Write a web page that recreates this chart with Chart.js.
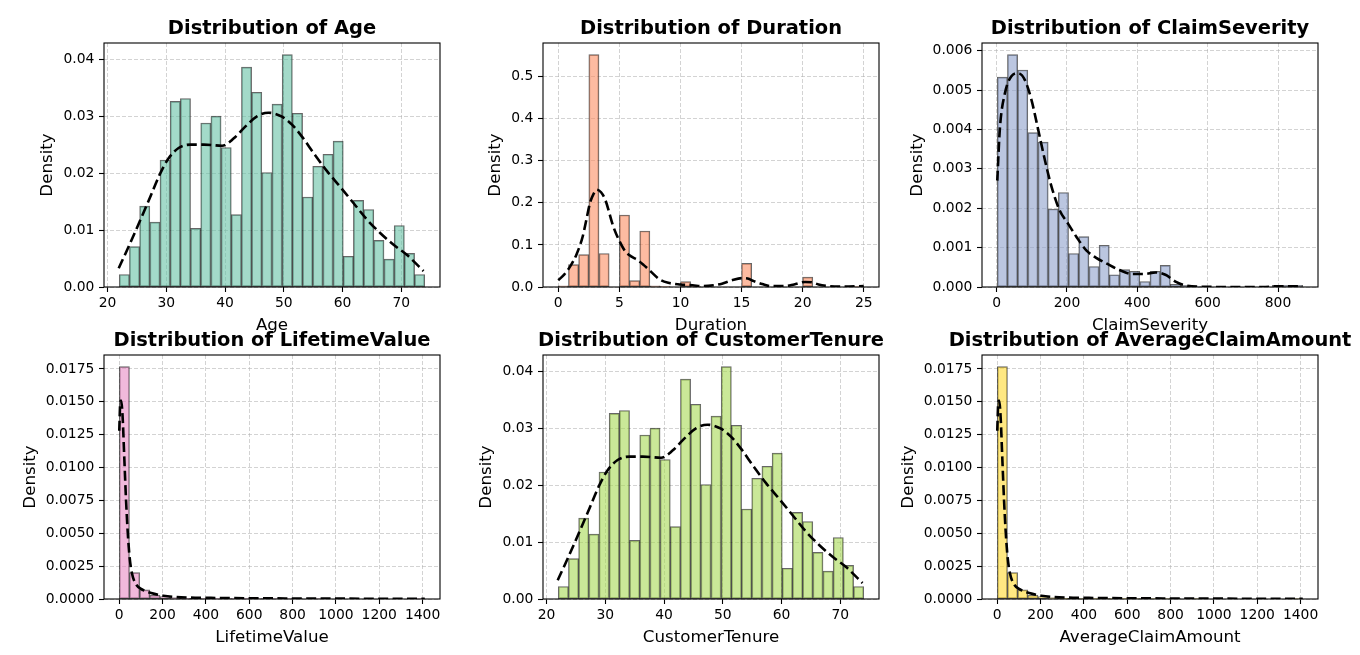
<!DOCTYPE html>
<html><head><meta charset="utf-8">
<script src="https://cdn.jsdelivr.net/npm/chart.js@4.4.0/dist/chart.umd.min.js"></script>
<style>
html,body{margin:0;padding:0;background:#fff;width:1360px;height:655px;overflow:hidden;position:relative;}
canvas{position:absolute;}
</style></head><body>
<script>
// ---------- DATA ----------
// Age (30 bins over the data range)
const ageRange = [22, 74];
const ageDensity = [0.0022,0.0071,0.0142,0.0114,0.0223,0.0326,0.0331,0.0103,0.0288,0.0300,0.0245,0.0127,0.0386,0.0342,0.0201,0.0321,0.0408,0.0305,0.0158,0.0212,0.0233,0.0256,0.0054,0.0152,0.0136,0.0082,0.0049,0.0108,0.0059,0.0022];
const ageKdeX = [21.9,23.6,25.6,27.3,29.0,30.4,32.1,34.1,36.4,39.5,41.5,43.2,45.5,47.4,49.7,51.4,53.1,55.1,57.4,59.6,61.9,64.2,66.5,68.7,71.0,73.8];
const ageKdeY = [0.0033,0.0071,0.0118,0.0159,0.0200,0.0226,0.0244,0.0250,0.0250,0.0248,0.0261,0.0279,0.0300,0.0306,0.0299,0.0285,0.0264,0.0235,0.0203,0.0176,0.0147,0.0118,0.0094,0.0074,0.0056,0.0028];
const ageXTicks = ['20','30','40','50','60','70'];
const ageYTicks = ['0.00','0.01','0.02','0.03','0.04'];

// Duration
const durRange = [0, 25];
const durDensity = [0.003,0.053,0.077,0.552,0.0795,0,0.171,0.015,0.133,0.003,0.001,0,0.0126,0.001,0,0,0,0,0.056,0,0,0,0,0,0.0236,0,0,0,0,0.001];
const durKdeX = [0,0.5,1.0,1.5,2.0,2.3,2.6,2.9,3.15,3.5,3.85,4.5,5.06,5.5,6.0,6.5,7.0,7.6,8.3,9.0,10.0,11.0,11.9,12.7,13.4,14.2,15.0,15.5,16.0,16.7,17.4,18.5,19.3,20.2,20.8,21.3,22.2,23.2,25.0];
const durKdeY = [0.016,0.030,0.050,0.078,0.120,0.160,0.200,0.222,0.231,0.225,0.207,0.144,0.106,0.084,0.072,0.064,0.052,0.036,0.018,0.010,0.006,0.004,0.002,0.004,0.008,0.016,0.021,0.020,0.014,0.007,0.002,0.002,0.006,0.012,0.011,0.006,0.002,0.001,0.002];
const durXTicks = ['0','5','10','15','20','25'];
const durYTicks = ['0.0','0.1','0.2','0.3','0.4','0.5'];

// ClaimSeverity
const claimRange = [1.8, 870.3];
const claimDensity = [0.00533,0.0059,0.00551,0.00392,0.00368,0.00198,0.0024,0.00085,0.00128,0.00052,0.00106,0.00031,0.00044,0.0004,0.00014,0.0004,0.00055,0.00007,0.00004,0.00001,0,0,0,0,0,0,0,0.00004,0.00004,0.00004];
const claimKdeX = [1.8,9,23,42,61,80,99,118,137,156,179,203,227,255,283,312,349,387,420,452,480,510,538,595,660,755,802,868];
const claimKdeY = [0.0027,0.0040,0.0049,0.00535,0.00543,0.00526,0.00475,0.0040,0.00323,0.00255,0.00195,0.00161,0.00127,0.00093,0.00074,0.0006,0.00043,0.00033,0.00033,0.00037,0.00031,0.00013,0.00004,0.000005,0,0,0.00002,0.00002];
const claimXTicks = ['0','200','400','600','800'];
const claimYTicks = ['0.000','0.001','0.002','0.003','0.004','0.005','0.006'];

// LifetimeValue
const ltvRange = [0, 1410];
const ltvDensity = [0.01768,0.00201,0.00069,0.0003,0.00018,0.0001,0.00006,0.00005,0.00004,0.00003,0.00003,0.00002,0.00002,0.00001,0.00001,0.00001,0.00001,0.00001,0,0.00001,0,0,0,0,0,0,0,0,0,0.00001];
const ltvKdeX = [0,4,8,15,23,31,39,47,58,78,109,148,203,258,350,450,600,800,1000,1200,1410];
const ltvKdeY = [0.0128,0.0148,0.0151,0.0140,0.0108,0.0076,0.0051,0.0033,0.0020,0.0011,0.0007,0.00045,0.00025,0.00015,0.0001,0.00008,0.00006,0.00004,0.00003,0.00002,0.00001];
const ltvXTicks = ['0','200','400','600','800','1000','1200','1400'];
const ltvYTicks = ['0.0000','0.0025','0.0050','0.0075','0.0100','0.0125','0.0150','0.0175'];

// CustomerTenure
const tenureRange = [22, 74];
const tenureDensity = [0.0022,0.0071,0.0142,0.0114,0.0223,0.0326,0.0331,0.0103,0.0288,0.0300,0.0245,0.0127,0.0386,0.0342,0.0201,0.0321,0.0408,0.0305,0.0158,0.0212,0.0233,0.0256,0.0054,0.0152,0.0136,0.0082,0.0049,0.0108,0.0059,0.0022];
const tenureKdeX = [21.9,23.6,25.6,27.3,29.0,30.4,32.1,34.1,36.4,39.5,41.5,43.2,45.5,47.4,49.7,51.4,53.1,55.1,57.4,59.6,61.9,64.2,66.5,68.7,71.0,73.8];
const tenureKdeY = [0.0033,0.0071,0.0118,0.0159,0.0200,0.0226,0.0244,0.0250,0.0250,0.0248,0.0261,0.0279,0.0300,0.0306,0.0299,0.0285,0.0264,0.0235,0.0203,0.0176,0.0147,0.0118,0.0094,0.0074,0.0056,0.0028];

// AverageClaimAmount
const acaRange = [0, 1410];
const acaDensity = [0.01768,0.00201,0.00069,0.0003,0.00018,0.0001,0.00006,0.00005,0.00004,0.00003,0.00003,0.00002,0.00002,0.00001,0.00001,0.00001,0.00001,0.00001,0,0.00001,0,0,0,0,0,0,0,0,0,0.00001];
const acaKdeX = [0,4,8,15,23,31,39,47,58,78,109,148,203,258,350,450,600,800,1000,1200,1410];
const acaKdeY = [0.0128,0.0148,0.0151,0.0140,0.0108,0.0076,0.0051,0.0033,0.0020,0.0011,0.0007,0.00045,0.00025,0.00015,0.0001,0.00008,0.00006,0.00004,0.00003,0.00002,0.00001];

// ---------- LAYOUT ----------
const FONT = '"DejaVu Sans", sans-serif';
Chart.defaults.font.family = FONT;
const AXW = 110, XAH = 60, TB = 35;
const COLS = [104, 543, 982], ROWS = [43, 355], PW = 336, PH = 244;

const framePlugin = {
  id: 'frame',
  afterDraw(c) {
    const a = c.chartArea, x = c.ctx;
    x.save(); x.strokeStyle = '#000'; x.lineWidth = 1.1;
    x.strokeRect(a.left, a.top, a.right - a.left, a.bottom - a.top);
    x.restore();
  }
};

function makeHist(cfg) {
  const {col, row, title, xlabel, range, dens, kdeX, kdeY, color, xTicks, yTicks} = cfg;
  const L = COLS[col], T = ROWS[row];
  const cw = AXW + PW + AXW, ch = TB + PH + XAH;
  const cv = document.createElement('canvas');
  cv.width = cw; cv.height = ch;
  cv.style.left = (L - AXW) + 'px'; cv.style.top = (T - TB) + 'px';
  cv.style.width = cw + 'px'; cv.style.height = ch + 'px';
  document.body.appendChild(cv);

  const [lo, hi] = range;
  const bw = (hi - lo) / dens.length;
  const bars = dens.map((d, i) => ({x: lo + bw * (i + 0.5), y: d}));
  const line = kdeX.map((x, i) => ({x: x, y: kdeY[i]}));
  const span = hi - lo;
  const ymax = 1.05 * Math.max(...dens, ...kdeY);
  const xVals = xTicks.map(parseFloat), yVals = yTicks.map(parseFloat);

  const m = document.createElement('canvas').getContext('2d');
  m.font = '13.89px ' + FONT;
  const tw = Math.max(...yTicks.map(t => m.measureText(t).width));
  const yTitlePad = AXW - (25 + tw) - 10;

  const tickFont = {family: FONT, size: 13.89};
  const gridCommon = {color: 'rgba(176,176,176,0.7)', lineWidth: 0.8, tickLength: 5, tickColor: '#000', tickWidth: 1.1, tickBorderDash: [], drawTicks: true, offset: false};

  new Chart(cv, {
    type: 'bar',
    data: {datasets: [
      {type: 'line', data: line, borderColor: '#000', borderWidth: 2.6, borderDash: [10, 4.4], pointRadius: 0, fill: false, cubicInterpolationMode: 'monotone', order: 0},
      {type: 'bar', data: bars, backgroundColor: color, borderColor: 'rgba(0,0,0,0.6)', borderWidth: 1, borderSkipped: false, barPercentage: 1, categoryPercentage: 1, order: 1}
    ]},
    options: {
      responsive: false, maintainAspectRatio: false, animation: false, devicePixelRatio: 1,
      layout: {padding: 0, autoPadding: false},
      plugins: {
        legend: {display: false}, tooltip: {enabled: false},
        title: {display: true, text: title, fullSize: true, color: '#000',
          font: {family: FONT, size: 19.44, weight: 'bold', lineHeight: '24px'}, padding: {top: 8.6, bottom: 2.4}}
      },
      scales: {
        x: {
          type: 'linear', min: lo - 0.05 * span, max: hi + 0.05 * span, offset: false, bounds: 'data',
          afterBuildTicks: s => { s.ticks = xVals.map(v => ({value: v})); },
          afterFit: s => { s.height = XAH; },
          ticks: {autoSkip: false, maxRotation: 0, minRotation: 0, padding: 3, color: '#000', font: tickFont, callback: (v, i) => xTicks[i]},
          grid: gridCommon,
          border: {display: false, dash: [4, 2]},
          title: {display: true, text: xlabel, color: '#000', font: {family: FONT, size: 16.67, lineHeight: '20px'}, padding: {top: 0, bottom: 11.5}}
        },
        y: {
          type: 'linear', position: 'left', min: 0, max: ymax, bounds: 'data',
          afterBuildTicks: s => { s.ticks = yVals.map(v => ({value: v})); },
          afterFit: s => { s.width = AXW; },
          ticks: {autoSkip: false, padding: 4.7, color: '#000', font: tickFont, callback: (v, i) => yTicks[i]},
          grid: gridCommon,
          border: {display: false, dash: [4, 2]},
          title: {display: true, text: 'Density', color: '#000', font: {family: FONT, size: 16.67, lineHeight: '20px'}, padding: {top: yTitlePad, bottom: 0}}
        },
        yRightSpacer: {
          type: 'linear', position: 'right', display: true,
          afterFit: s => { s.width = AXW; },
          ticks: {display: false},
          grid: {display: false, drawOnChartArea: false, drawTicks: false},
          border: {display: false},
          title: {display: false}
        }
      }
    },
    plugins: [framePlugin]
  });
}

makeHist({col: 0, row: 0, title: 'Distribution of Age', xlabel: 'Age', range: ageRange, dens: ageDensity, kdeX: ageKdeX, kdeY: ageKdeY, color: 'rgba(102,194,165,0.6)', xTicks: ageXTicks, yTicks: ageYTicks});
makeHist({col: 1, row: 0, title: 'Distribution of Duration', xlabel: 'Duration', range: durRange, dens: durDensity, kdeX: durKdeX, kdeY: durKdeY, color: 'rgba(252,141,98,0.6)', xTicks: durXTicks, yTicks: durYTicks});
makeHist({col: 2, row: 0, title: 'Distribution of ClaimSeverity', xlabel: 'ClaimSeverity', range: claimRange, dens: claimDensity, kdeX: claimKdeX, kdeY: claimKdeY, color: 'rgba(141,160,203,0.6)', xTicks: claimXTicks, yTicks: claimYTicks});
makeHist({col: 0, row: 1, title: 'Distribution of LifetimeValue', xlabel: 'LifetimeValue', range: ltvRange, dens: ltvDensity, kdeX: ltvKdeX, kdeY: ltvKdeY, color: 'rgba(231,138,195,0.6)', xTicks: ltvXTicks, yTicks: ltvYTicks});
makeHist({col: 1, row: 1, title: 'Distribution of CustomerTenure', xlabel: 'CustomerTenure', range: tenureRange, dens: tenureDensity, kdeX: tenureKdeX, kdeY: tenureKdeY, color: 'rgba(166,216,84,0.6)', xTicks: ageXTicks, yTicks: ageYTicks});
makeHist({col: 2, row: 1, title: 'Distribution of AverageClaimAmount', xlabel: 'AverageClaimAmount', range: acaRange, dens: acaDensity, kdeX: acaKdeX, kdeY: acaKdeY, color: 'rgba(255,217,47,0.6)', xTicks: ltvXTicks, yTicks: ltvYTicks});
</script>
</body></html>
